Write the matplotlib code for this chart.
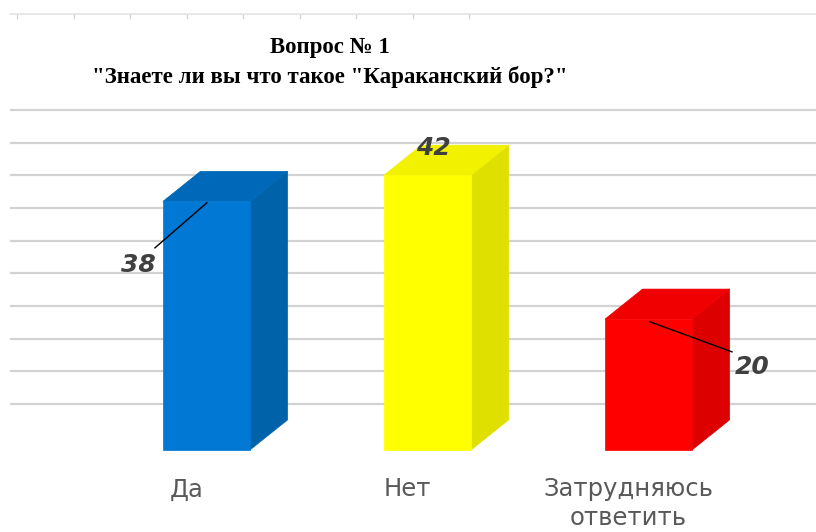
import numpy as np
import matplotlib
matplotlib.use("Agg")
import matplotlib.pyplot as plt
from matplotlib.patches import Polygon

# Data
categories = ["Да", "Нет", "Затрудняюсь\nответить"]
values = [38, 42, 20]
front_colors = ["#0078D4", "#FFFF00", "#FF0000"]
top_colors = ["#0068B8", "#F2F200", "#F00000"]
side_colors = ["#0062A8", "#E0E000", "#DC0000"]
grid_values = [7, 12, 17, 22, 27, 32, 37, 42, 47, 52]

# geometry (data units)
bar_w = 0.394
dx, dy = 0.17, 4.6

fig = plt.figure(figsize=(8.16, 5.32), dpi=100)
ax = fig.add_axes([0, 0, 1, 1])
ax.set_xlim(-0.934, 2.758)
ax.set_ylim(-12.54, 68.8)
ax.axis("off")

# gridlines on the back wall
ax.hlines(grid_values, -0.89, 2.758, colors="#D2D2D2", linewidth=1.6, zorder=0)

# top frame line with small ticks
ax.axhline(66.7, xmin=0.012, xmax=1, color="#E4E4E4", linewidth=1.2, zorder=0)
for xt in np.arange(17, 480, 56.5) / 816:
    ax.plot([xt, xt], [0.972, 0.966], transform=ax.transAxes,
            color="#CCCCCC", linewidth=0.8)

for i, (v, fc, tc, sc) in enumerate(zip(values, front_colors, top_colors, side_colors)):
    x0 = i - bar_w / 2
    x1 = i + bar_w / 2
    front = Polygon([(x0, 0), (x1, 0), (x1, v), (x0, v)], closed=True,
                    facecolor=fc, edgecolor=fc, linewidth=0.5, zorder=3)
    top = Polygon([(x0, v), (x1, v), (x1 + dx, v + dy), (x0 + dx, v + dy)],
                  closed=True, facecolor=tc, edgecolor=tc, linewidth=0.5, zorder=2)
    side = Polygon([(x1, 0), (x1 + dx, dy), (x1 + dx, v + dy), (x1, v)],
                   closed=True, facecolor=sc, edgecolor=sc, linewidth=0.5, zorder=2)
    for p in (side, top, front):
        ax.add_patch(p)
    ax.text(i - 0.09, -4.2, categories[i], ha="center", va="top",
            fontsize=17.5, color="#595959", linespacing=1.22)

# value labels with leader lines
label_pos = [(-0.31, 28.3), (1.025, 46.2), (2.468, 12.7)]
leaders = [((-0.233, 30.9), (0.002, 37.8)), None, ((2.007, 19.6), (2.378, 15.0))]
for v, (lx, ly), ld in zip(values, label_pos, leaders):
    if ld is not None:
        ax.plot([ld[0][0], ld[1][0]], [ld[0][1], ld[1][1]], color="black",
                linewidth=1.0, zorder=4)
    ax.text(lx, ly, str(v), ha="center", va="center", fontsize=18,
            fontweight="bold", fontstyle="italic", color="#404040", zorder=5)

fig.text(330 / 816, 1 - 47 / 532, "Вопрос № 1", ha="center", va="center",
         fontsize=16.5, fontweight="bold", family="Liberation Serif")
fig.text(330 / 816, 1 - 77 / 532, '"Знаете ли вы что такое "Караканский бор?"',
         ha="center", va="center", fontsize=16.5, fontweight="bold",
         family="Liberation Serif")

fig.savefig("out.png", dpi=100)
